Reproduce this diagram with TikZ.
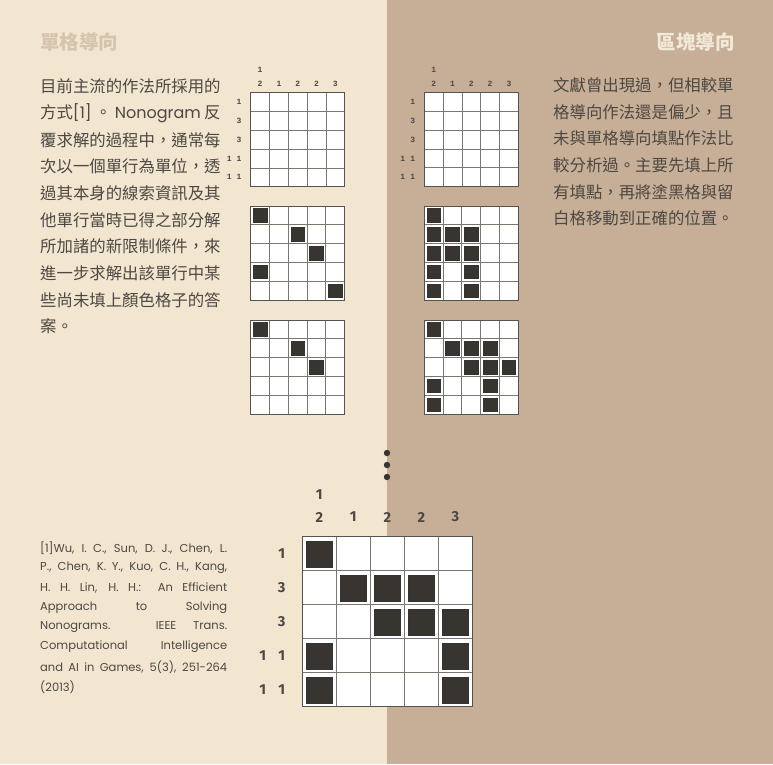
\documentclass[tikz,border=0pt]{standalone}
\usepackage{fontspec}
\newfontfamily\cjk{Noto Sans CJK TC}
\newfontfamily\lat{Poppins}
\newfontfamily\sclue{Liberation Mono}
\newfontfamily\bclue{Fira Sans}
\definecolor{bgL}{HTML}{F2E6D0}
\definecolor{bgR}{HTML}{C6AF96}
\definecolor{titleL}{HTML}{D6C5AE}
\definecolor{titleR}{HTML}{F3E9D8}
\definecolor{ink}{HTML}{4D4843}
\definecolor{cellc}{HTML}{38342F}
\definecolor{gridc}{HTML}{7A7670}
\tikzset{
  cjktext/.style={inner sep=0pt, anchor=west, text=ink, font=\cjk\fontsize{16.4}{18}\selectfont},
  reftext/.style={inner sep=0pt, anchor=west, text=ink, font=\lat\fontsize{11.5}{13}\selectfont},
  titletext/.style={inner sep=0pt, font=\cjk\bfseries\fontsize{19.5}{21}\selectfont},
  sclue/.style={inner sep=0pt, text=ink, font=\sclue\bfseries\fontsize{8}{9}\selectfont},
  bclue/.style={inner sep=0pt, text=ink, font=\bclue\bfseries\fontsize{14.5}{16}\selectfont},
  gridline/.style={draw=gridc, line width=0.8pt},
  gridborder/.style={draw=gridc!70!black, line width=0.9pt},
  darkcell/.style={fill=cellc, draw=black!80, line width=0.4pt},
  dotc/.style={circle, fill=cellc, inner sep=0pt, minimum size=6.4pt},
}
% #1 x, #2 y, #3 cell, #4 margin, #5 list of col/row
\newcommand\ngrid[5]{%
  \fill[white] (#1,#2) rectangle ++(5*#3,5*#3);
  \foreach \i in {1,...,4} {
    \draw[gridline] (#1+\i*#3,#2) -- ++(0,5*#3);
    \draw[gridline] (#1,#2+\i*#3) -- ++(5*#3,0);
  }
  \draw[gridborder] (#1,#2) rectangle ++(5*#3,5*#3);
  \foreach \c/\r in {#5} {
    \draw[darkcell] (#1+\c*#3-#3+#4,#2+\r*#3-#3+#4) rectangle ++(#3-2*#4,#3-2*#4);
  }
}
\begin{document}
\begin{tikzpicture}[x=1pt,y=-1pt]
\useasboundingbox (0,0) rectangle (773,764);
\fill[bgL] (0,0) rectangle (387,764);
\fill[bgR] (387,0) rectangle (773,764);

% titles
\node[titletext, text=titleL, anchor=west] (tL) at (40,42) {單格導向};
\node[titletext, text=titleR, anchor=east] (tR) at (735,42) {區塊導向};

% left paragraph
\node[cjktext] (l1) at (40,86.7) {目前主流的作法所採用的};
\node[cjktext] (l2) at (40,113.4) {\makebox[180.4pt][s]{方式{\lat\fontsize{16}{18}\selectfont[1]} 。 {\lat\fontsize{16}{18}\selectfont Nonogram} 反}};
\node[cjktext] (l3) at (40,140.0) {覆求解的過程中，通常每};
\node[cjktext] (l4) at (40,166.7) {次以一個單行為單位，透};
\node[cjktext] (l5) at (40,193.4) {過其本身的線索資訊及其};
\node[cjktext] (l6) at (40,220.0) {他單行當時已得之部分解};
\node[cjktext] (l7) at (40,246.7) {所加諸的新限制條件，來};
\node[cjktext] (l8) at (40,273.4) {進一步求解出該單行中某};
\node[cjktext] (l9) at (40,300.0) {些尚未填上顏色格子的答};
\node[cjktext] (l10) at (40,326.7) {案。};

% right paragraph
\node[cjktext] (r1) at (553,85.3) {文獻曾出現過，但相較單};
\node[cjktext] (r2) at (553,112.0) {格導向作法還是偏少，且};
\node[cjktext] (r3) at (553,138.6) {未與單格導向填點作法比};
\node[cjktext] (r4) at (553,165.3) {較分析過。主要先填上所};
\node[cjktext] (r5) at (553,192.0) {有填點，再將塗黑格與留};
\node[cjktext] (r6) at (553,218.6) {白格移動到正確的位置。};

% reference
\node[reftext] (f1) at (40,548) {\makebox[187pt][s]{[1]Wu, I. C., Sun, D. J., Chen, L.}};
\node[reftext] (f2) at (40,568) {\makebox[187pt][s]{P., Chen, K. Y., Kuo, C. H., Kang,}};
\node[reftext] (f3) at (40,587.8) {\makebox[187pt][s]{H. H. Lin, H. H.: An Efficient}};
\node[reftext] (f4) at (40,607.7) {\makebox[187pt][s]{Approach to Solving}};
\node[reftext] (f5) at (40,627.3) {\makebox[187pt][s]{Nonograms. IEEE Trans.}};
\node[reftext] (f6) at (40,647) {\makebox[187pt][s]{Computational Intelligence}};
\node[reftext] (f7) at (40,666.8) {\makebox[187pt][s]{and AI in Games, 5(3), 251-264}};
\node[reftext] (f8) at (40,686.7) {(2013)};

% small grids
\ngrid{250.7}{92.7}{18.8}{2.6}{}
\ngrid{250.5}{206}{18.8}{2.6}{1/1,3/2,4/3,1/4,5/5}
\ngrid{250.5}{320}{18.8}{2.6}{1/1,3/2,4/3}
\ngrid{424.3}{92.5}{18.8}{2.6}{}
\ngrid{424.2}{206}{18.8}{2.6}{1/1,1/2,2/2,3/2,1/3,2/3,3/3,1/4,3/4,1/5,3/5}
\ngrid{424.2}{320}{18.8}{2.6}{1/1,2/2,3/2,4/2,3/3,4/3,5/3,1/4,4/4,1/5,4/5}

% big grid
\ngrid{302.3}{536.7}{34}{4}{1/1,2/2,3/2,4/2,3/3,4/3,5/3,1/4,5/4,1/5,5/5}

% clues: left small
\node[sclue] (a0) at (260.1,70) {1};
\foreach \v [count=\k from 0] in {2,1,2,2,3} \node[sclue] (ac\k) at (260.1+18.8*\k,84) {\v};
\node[sclue] (ar1) at (239,102.1) {1};
\node[sclue] (ar2) at (239,120.9) {3};
\node[sclue] (ar3) at (239,139.7) {3};
\node[sclue] (ar4a) at (229.3,158.5) {1};
\node[sclue] (ar4b) at (239,158.5) {1};
\node[sclue] (ar5a) at (229.3,177.3) {1};
\node[sclue] (ar5b) at (239,177.3) {1};

% clues: right small
\node[sclue] (b0) at (433.7,70) {1};
\foreach \v [count=\k from 0] in {2,1,2,2,3} \node[sclue] (bc\k) at (433.7+18.8*\k,84) {\v};
\node[sclue] (br1) at (412.7,102) {1};
\node[sclue] (br2) at (412.7,120.8) {3};
\node[sclue] (br3) at (412.7,139.6) {3};
\node[sclue] (br4a) at (402.7,158.4) {1};
\node[sclue] (br4b) at (412.7,158.4) {1};
\node[sclue] (br5a) at (402.7,177.2) {1};
\node[sclue] (br5b) at (412.7,177.2) {1};

% clues: big
\node[bclue] (c0) at (319.3,495) {1};
\foreach \v [count=\k from 0] in {2,1,2,2,3} \node[bclue] (cc\k) at (319.3+34*\k,517) {\v};
\node[bclue] (cr1) at (281.7,553.7) {1};
\node[bclue] (cr2) at (281.7,587.7) {3};
\node[bclue] (cr3) at (281.7,621.7) {3};
\node[bclue] (cr4a) at (262.7,655.7) {1};
\node[bclue] (cr4b) at (281.7,655.7) {1};
\node[bclue] (cr5a) at (262.7,689.7) {1};
\node[bclue] (cr5b) at (281.7,689.7) {1};

% dots
\node[dotc] (d1) at (387,453) {};
\node[dotc] (d2) at (387,465) {};
\node[dotc] (d3) at (387,477) {};
\end{tikzpicture}
\end{document}
